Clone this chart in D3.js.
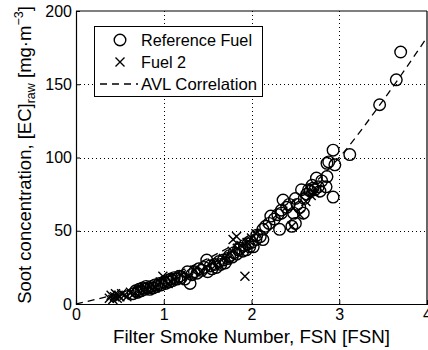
<!DOCTYPE html>
<html>
<head>
<meta charset="utf-8">
<script src="https://cdn.jsdelivr.net/npm/d3@7"></script>
<style>
body { margin: 0; background: #fff; }
text { font-family: "Liberation Sans", Arial, sans-serif; }
</style>
</head>
<body>
<script>
// Reference Fuel points [FSN, EC]
var refFuel = [
  [0.65,7],[0.68,9],[0.70,8],[0.72,10],[0.74,9],[0.76,11],[0.78,10],[0.80,12],[0.82,11],[0.84,10],
  [0.86,12],[0.88,11],[0.90,13],[0.92,12],[0.95,14],[0.97,13],[1.00,15],[1.02,14],[1.04,16],[1.06,15],
  [1.08,17],[1.10,16],[1.12,18],[1.15,17],[1.18,19],[1.20,18],[1.24,17],[1.27,22],[1.30,14],[1.32,20],
  [1.35,22],[1.38,21],[1.40,24],[1.43,23],[1.46,25],[1.49,30],[1.50,22],[1.53,26],[1.55,24],[1.58,27],
  [1.60,25],[1.63,29],[1.65,27],[1.68,30],[1.70,28],[1.73,31],[1.75,33],[1.78,32],[1.80,35],[1.83,34],
  [1.85,37],[1.87,38],[1.90,36],[1.92,40],[1.94,37],[1.96,41],[1.98,39],[2.00,42],[2.02,39],[2.05,44],
  [2.06,47],[2.10,46],[2.13,44],[2.13,51],[2.16,53],[2.20,55],[2.22,60],[2.26,58],[2.30,61],[2.32,51],
  [2.34,62],[2.34,64],[2.36,71],[2.40,66],[2.43,68],[2.46,53],[2.48,62],[2.50,55],[2.50,72],[2.52,68],
  [2.55,66],[2.57,78],[2.59,62],[2.60,72],[2.63,75],[2.65,78],[2.67,77],[2.69,81],[2.70,79],[2.72,78],
  [2.74,86],[2.76,80],[2.78,77],[2.80,84],[2.85,80],[2.86,87],[2.86,96],[2.88,97],[2.93,73],[2.93,105],
  [2.95,95],[3.12,102],[3.46,136],[3.65,153],[3.70,172]
];

// Fuel 2 points [FSN, EC]
var fuel2 = [
  [0.38,4],[0.40,6],[0.42,3],[0.44,5],[0.45,7],[0.47,4],[0.48,6],[0.50,5],[0.52,7],[0.55,6],
  [0.58,5],[0.62,8],[0.66,7],[0.72,9],[0.78,10],[0.85,12],[0.90,11],[0.96,15],[0.99,19],[1.05,14],
  [1.12,17],[1.20,20],[1.28,19],[1.35,23],[1.42,22],[1.48,25],[1.55,28],[1.60,27],[1.68,31],[1.72,30],
  [1.78,36],[1.79,44],[1.84,38],[1.83,46],[1.88,40],[1.925,19],[1.95,42],[2.00,45],[2.05,48],[2.46,53],
  [2.55,61],[2.62,70],[2.68,74],[2.72,76]
];

// AVL correlation
var avlX = [0, 0.25, 0.5, 1, 1.5, 2, 2.5, 3, 3.5, 4];
var avlY = [0, 3.5, 7.5, 18, 31, 48, 71, 100, 139, 182];

var xTicks = [0, 1, 2, 3, 4];
var yTicks = [0, 50, 100, 150, 200];

var W = 428, H = 350;
var m = { left: 76, top: 11, right: 427, bottom: 304 };

var svg = d3.select("body").append("svg")
  .attr("width", W)
  .attr("height", H);

var x = d3.scaleLinear().domain([0, 4]).range([m.left, m.right]);
var y = d3.scaleLinear().domain([0, 200]).range([m.bottom, m.top]);

// grid
var grid = svg.append("g")
  .attr("stroke", "#000")
  .attr("stroke-width", 1)
  .attr("stroke-dasharray", "1,3");
grid.selectAll(".gx").data(xTicks.slice(1, 4)).enter().append("line")
  .attr("x1", function (d) { return Math.round(x(d)) + 0.5; })
  .attr("x2", function (d) { return Math.round(x(d)) + 0.5; })
  .attr("y1", m.top).attr("y2", m.bottom);
grid.selectAll(".gy").data(yTicks.slice(1, 4)).enter().append("line")
  .attr("y1", function (d) { return Math.round(y(d)) + 0.5; })
  .attr("y2", function (d) { return Math.round(y(d)) + 0.5; })
  .attr("x1", m.left).attr("x2", m.right);

// axes (ticks inside, MATLAB style)
var xAxis = svg.append("g")
  .attr("transform", "translate(0," + m.bottom + ")")
  .call(d3.axisBottom(x).tickValues(xTicks).tickFormat(d3.format("d")).tickSize(-4).tickPadding(5));
var yAxis = svg.append("g")
  .attr("transform", "translate(" + m.left + ",0)")
  .call(d3.axisLeft(y).tickValues(yTicks).tickFormat(d3.format("d")).tickSize(-4).tickPadding(4));
[xAxis, yAxis].forEach(function (a) {
  a.selectAll("text").style("font-size", "16px").attr("fill", "#000");
  a.select(".domain").attr("stroke", "#000").attr("stroke-width", 1.2);
  a.selectAll(".tick line").attr("stroke", "#000");
});

// top/right frame
svg.append("line").attr("x1", m.left).attr("x2", m.right).attr("y1", m.top).attr("y2", m.top)
  .attr("stroke", "#000").attr("stroke-width", 1.2);
svg.append("line").attr("x1", m.right).attr("x2", m.right).attr("y1", m.top).attr("y2", m.bottom)
  .attr("stroke", "#000").attr("stroke-width", 1.2);

var plot = svg.append("g");

// correlation line
var line = d3.line()
  .x(function (d, i) { return x(avlX[i]); })
  .y(function (d, i) { return y(avlY[i]); })
  .curve(d3.curveMonotoneX);
plot.append("path")
  .datum(avlX)
  .attr("d", line)
  .attr("fill", "none")
  .attr("stroke", "#000")
  .attr("stroke-width", 1.3)
  .attr("stroke-dasharray", "7,5");

// circles
plot.selectAll("circle.ref").data(refFuel).enter().append("circle")
  .attr("class", "ref")
  .attr("cx", function (d) { return x(d[0]); })
  .attr("cy", function (d) { return y(d[1]); })
  .attr("r", 5.8)
  .attr("fill", "none")
  .attr("stroke", "#000")
  .attr("stroke-width", 1.4);

// crosses
var cross = function (s) {
  return "M" + (-s) + "," + (-s) + "L" + s + "," + s + "M" + (-s) + "," + s + "L" + s + "," + (-s);
};
plot.selectAll("path.f2").data(fuel2).enter().append("path")
  .attr("class", "f2")
  .attr("transform", function (d) { return "translate(" + x(d[0]) + "," + y(d[1]) + ")"; })
  .attr("d", cross(4.5))
  .attr("stroke", "#000")
  .attr("stroke-width", 1.4);

// legend
var lg = svg.append("g");
lg.append("rect")
  .attr("x", 94.5).attr("y", 26.5).attr("width", 168).attr("height", 70)
  .attr("fill", "#fff").attr("stroke", "#000").attr("stroke-width", 1);
lg.append("circle").attr("cx", 120).attr("cy", 40).attr("r", 5.8)
  .attr("fill", "none").attr("stroke", "#000").attr("stroke-width", 1.4);
lg.append("path").attr("transform", "translate(120,62)").attr("d", cross(4.5))
  .attr("stroke", "#000").attr("stroke-width", 1.4);
lg.append("line").attr("x1", 100).attr("x2", 138).attr("y1", 84).attr("y2", 84)
  .attr("stroke", "#000").attr("stroke-width", 1.3).attr("stroke-dasharray", "7,5");
var labels = ["Reference Fuel", "Fuel 2", "AVL Correlation"];
var labelW = [111, 45, 116];
lg.selectAll("text.lab").data(labels).enter().append("text")
  .attr("x", 141)
  .attr("y", function (d, i) { return 40 + i * 22; })
  .attr("dy", "0.36em")
  .attr("textLength", function (d, i) { return labelW[i]; })
  .attr("lengthAdjust", "spacingAndGlyphs")
  .style("font-size", "16.5px")
  .text(function (d) { return d; });

// axis labels
svg.append("text")
  .attr("x", 113)
  .attr("y", 343)
  .attr("textLength", 277)
  .attr("lengthAdjust", "spacingAndGlyphs")
  .style("font-size", "17.5px")
  .text("Filter Smoke Number, FSN [FSN]");

var yl = svg.append("text")
  .attr("transform", "translate(31,155) rotate(-90)")
  .attr("text-anchor", "middle")
  .style("font-size", "18.5px");
yl.append("tspan").text("Soot concentration, [EC]");
yl.append("tspan").attr("dy", 4).style("font-size", "12.5px").text("raw");
yl.append("tspan").attr("dy", -4).text(" [mg\u00b7m");
yl.append("tspan").attr("dy", -8).style("font-size", "12.5px").text("\u22123");
yl.append("tspan").attr("dy", 8).text("]");
</script>
</body>
</html>
